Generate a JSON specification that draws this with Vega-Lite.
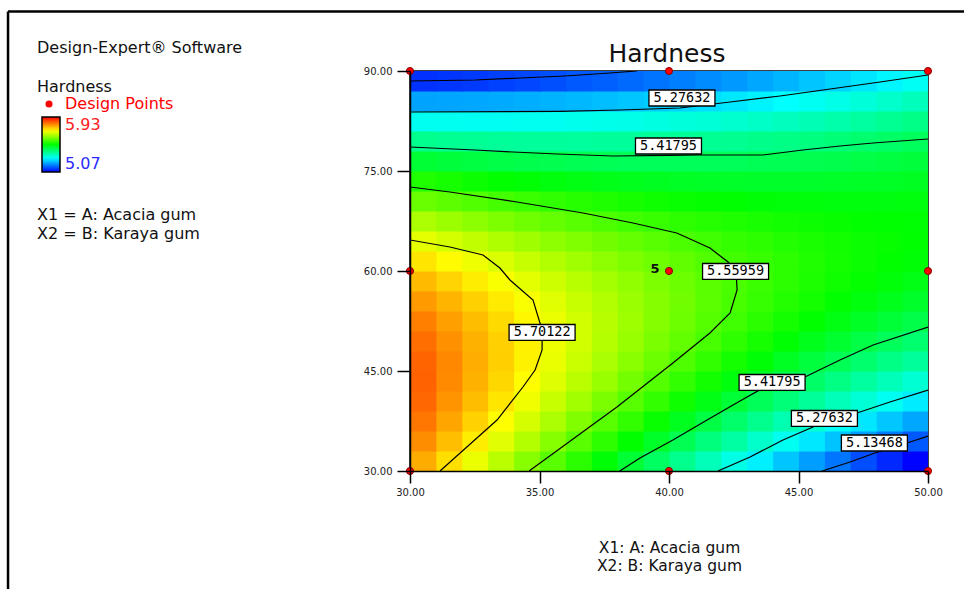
{
"$schema": "https://vega.github.io/schema/vega-lite/v6.json",
"autosize": "none",
"width": 518,
"height": 400,
"padding": {"left": 410, "top": 71, "right": 36, "bottom": 118},
"background": "white",
"config": {"view": {"stroke": "#000", "strokeWidth": 1.5}, "font": "DejaVu Sans"},
"datasets": {
"grid": [
{"a":30,"b":30,"h":5.785},{"a":31,"b":30,"h":5.742},{"a":32,"b":30,"h":5.699},{"a":33,"b":30,"h":5.657},{"a":34,"b":30,"h":5.615},{"a":35,"b":30,"h":5.575},{"a":36,"b":30,"h":5.535},{"a":37,"b":30,"h":5.495},{"a":38,"b":30,"h":5.456},{"a":39,"b":30,"h":5.418},{"a":40,"b":30,"h":5.381},{"a":41,"b":30,"h":5.344},{"a":42,"b":30,"h":5.307},{"a":43,"b":30,"h":5.272},{"a":44,"b":30,"h":5.237},{"a":45,"b":30,"h":5.203},{"a":46,"b":30,"h":5.169},{"a":47,"b":30,"h":5.136},{"a":48,"b":30,"h":5.104},{"a":49,"b":30,"h":5.072},
{"a":30,"b":33,"h":5.811},{"a":31,"b":33,"h":5.770},{"a":32,"b":33,"h":5.730},{"a":33,"b":33,"h":5.690},{"a":34,"b":33,"h":5.651},{"a":35,"b":33,"h":5.613},{"a":36,"b":33,"h":5.575},{"a":37,"b":33,"h":5.538},{"a":38,"b":33,"h":5.502},{"a":39,"b":33,"h":5.466},{"a":40,"b":33,"h":5.431},{"a":41,"b":33,"h":5.397},{"a":42,"b":33,"h":5.363},{"a":43,"b":33,"h":5.330},{"a":44,"b":33,"h":5.298},{"a":45,"b":33,"h":5.266},{"a":46,"b":33,"h":5.235},{"a":47,"b":33,"h":5.204},{"a":48,"b":33,"h":5.174},{"a":49,"b":33,"h":5.145},
{"a":30,"b":36,"h":5.830},{"a":31,"b":36,"h":5.791},{"a":32,"b":36,"h":5.753},{"a":33,"b":36,"h":5.716},{"a":34,"b":36,"h":5.680},{"a":35,"b":36,"h":5.644},{"a":36,"b":36,"h":5.609},{"a":37,"b":36,"h":5.574},{"a":38,"b":36,"h":5.541},{"a":39,"b":36,"h":5.507},{"a":40,"b":36,"h":5.475},{"a":41,"b":36,"h":5.443},{"a":42,"b":36,"h":5.412},{"a":43,"b":36,"h":5.381},{"a":44,"b":36,"h":5.351},{"a":45,"b":36,"h":5.322},{"a":46,"b":36,"h":5.293},{"a":47,"b":36,"h":5.265},{"a":48,"b":36,"h":5.238},{"a":49,"b":36,"h":5.211},
{"a":30,"b":39,"h":5.842},{"a":31,"b":39,"h":5.806},{"a":32,"b":39,"h":5.771},{"a":33,"b":39,"h":5.736},{"a":34,"b":39,"h":5.702},{"a":35,"b":39,"h":5.669},{"a":36,"b":39,"h":5.636},{"a":37,"b":39,"h":5.604},{"a":38,"b":39,"h":5.573},{"a":39,"b":39,"h":5.542},{"a":40,"b":39,"h":5.512},{"a":41,"b":39,"h":5.482},{"a":42,"b":39,"h":5.454},{"a":43,"b":39,"h":5.426},{"a":44,"b":39,"h":5.398},{"a":45,"b":39,"h":5.371},{"a":46,"b":39,"h":5.345},{"a":47,"b":39,"h":5.320},{"a":48,"b":39,"h":5.295},{"a":49,"b":39,"h":5.270},
{"a":30,"b":42,"h":5.847},{"a":31,"b":42,"h":5.814},{"a":32,"b":42,"h":5.781},{"a":33,"b":42,"h":5.749},{"a":34,"b":42,"h":5.717},{"a":35,"b":42,"h":5.686},{"a":36,"b":42,"h":5.656},{"a":37,"b":42,"h":5.627},{"a":38,"b":42,"h":5.598},{"a":39,"b":42,"h":5.570},{"a":40,"b":42,"h":5.542},{"a":41,"b":42,"h":5.515},{"a":42,"b":42,"h":5.489},{"a":43,"b":42,"h":5.463},{"a":44,"b":42,"h":5.438},{"a":45,"b":42,"h":5.414},{"a":46,"b":42,"h":5.390},{"a":47,"b":42,"h":5.367},{"a":48,"b":42,"h":5.345},{"a":49,"b":42,"h":5.323},
{"a":30,"b":45,"h":5.846},{"a":31,"b":45,"h":5.815},{"a":32,"b":45,"h":5.784},{"a":33,"b":45,"h":5.755},{"a":34,"b":45,"h":5.726},{"a":35,"b":45,"h":5.697},{"a":36,"b":45,"h":5.670},{"a":37,"b":45,"h":5.643},{"a":38,"b":45,"h":5.616},{"a":39,"b":45,"h":5.590},{"a":40,"b":45,"h":5.565},{"a":41,"b":45,"h":5.541},{"a":42,"b":45,"h":5.517},{"a":43,"b":45,"h":5.494},{"a":44,"b":45,"h":5.471},{"a":45,"b":45,"h":5.449},{"a":46,"b":45,"h":5.428},{"a":47,"b":45,"h":5.408},{"a":48,"b":45,"h":5.388},{"a":49,"b":45,"h":5.369},
{"a":30,"b":48,"h":5.837},{"a":31,"b":48,"h":5.809},{"a":32,"b":48,"h":5.781},{"a":33,"b":48,"h":5.754},{"a":34,"b":48,"h":5.727},{"a":35,"b":48,"h":5.701},{"a":36,"b":48,"h":5.676},{"a":37,"b":48,"h":5.652},{"a":38,"b":48,"h":5.628},{"a":39,"b":48,"h":5.604},{"a":40,"b":48,"h":5.582},{"a":41,"b":48,"h":5.560},{"a":42,"b":48,"h":5.538},{"a":43,"b":48,"h":5.518},{"a":44,"b":48,"h":5.498},{"a":45,"b":48,"h":5.478},{"a":46,"b":48,"h":5.460},{"a":47,"b":48,"h":5.442},{"a":48,"b":48,"h":5.424},{"a":49,"b":48,"h":5.407},
{"a":30,"b":51,"h":5.822},{"a":31,"b":51,"h":5.796},{"a":32,"b":51,"h":5.771},{"a":33,"b":51,"h":5.746},{"a":34,"b":51,"h":5.722},{"a":35,"b":51,"h":5.699},{"a":36,"b":51,"h":5.676},{"a":37,"b":51,"h":5.654},{"a":38,"b":51,"h":5.632},{"a":39,"b":51,"h":5.612},{"a":40,"b":51,"h":5.592},{"a":41,"b":51,"h":5.572},{"a":42,"b":51,"h":5.553},{"a":43,"b":51,"h":5.535},{"a":44,"b":51,"h":5.517},{"a":45,"b":51,"h":5.501},{"a":46,"b":51,"h":5.484},{"a":47,"b":51,"h":5.469},{"a":48,"b":51,"h":5.454},{"a":49,"b":51,"h":5.439},
{"a":30,"b":54,"h":5.800},{"a":31,"b":54,"h":5.777},{"a":32,"b":54,"h":5.754},{"a":33,"b":54,"h":5.732},{"a":34,"b":54,"h":5.710},{"a":35,"b":54,"h":5.689},{"a":36,"b":54,"h":5.669},{"a":37,"b":54,"h":5.649},{"a":38,"b":54,"h":5.630},{"a":39,"b":54,"h":5.612},{"a":40,"b":54,"h":5.595},{"a":41,"b":54,"h":5.577},{"a":42,"b":54,"h":5.561},{"a":43,"b":54,"h":5.545},{"a":44,"b":54,"h":5.530},{"a":45,"b":54,"h":5.516},{"a":46,"b":54,"h":5.502},{"a":47,"b":54,"h":5.489},{"a":48,"b":54,"h":5.477},{"a":49,"b":54,"h":5.465},
{"a":30,"b":57,"h":5.772},{"a":31,"b":57,"h":5.751},{"a":32,"b":57,"h":5.730},{"a":33,"b":57,"h":5.711},{"a":34,"b":57,"h":5.691},{"a":35,"b":57,"h":5.673},{"a":36,"b":57,"h":5.655},{"a":37,"b":57,"h":5.638},{"a":38,"b":57,"h":5.622},{"a":39,"b":57,"h":5.606},{"a":40,"b":57,"h":5.591},{"a":41,"b":57,"h":5.576},{"a":42,"b":57,"h":5.562},{"a":43,"b":57,"h":5.549},{"a":44,"b":57,"h":5.536},{"a":45,"b":57,"h":5.524},{"a":46,"b":57,"h":5.513},{"a":47,"b":57,"h":5.503},{"a":48,"b":57,"h":5.493},{"a":49,"b":57,"h":5.483},
{"a":30,"b":60,"h":5.736},{"a":31,"b":60,"h":5.718},{"a":32,"b":60,"h":5.700},{"a":33,"b":60,"h":5.683},{"a":34,"b":60,"h":5.666},{"a":35,"b":60,"h":5.650},{"a":36,"b":60,"h":5.635},{"a":37,"b":60,"h":5.620},{"a":38,"b":60,"h":5.606},{"a":39,"b":60,"h":5.593},{"a":40,"b":60,"h":5.580},{"a":41,"b":60,"h":5.568},{"a":42,"b":60,"h":5.556},{"a":43,"b":60,"h":5.546},{"a":44,"b":60,"h":5.536},{"a":45,"b":60,"h":5.526},{"a":46,"b":60,"h":5.517},{"a":47,"b":60,"h":5.509},{"a":48,"b":60,"h":5.502},{"a":49,"b":60,"h":5.495},
{"a":30,"b":63,"h":5.694},{"a":31,"b":63,"h":5.678},{"a":32,"b":63,"h":5.663},{"a":33,"b":63,"h":5.648},{"a":34,"b":63,"h":5.634},{"a":35,"b":63,"h":5.620},{"a":36,"b":63,"h":5.607},{"a":37,"b":63,"h":5.595},{"a":38,"b":63,"h":5.584},{"a":39,"b":63,"h":5.573},{"a":40,"b":63,"h":5.563},{"a":41,"b":63,"h":5.553},{"a":42,"b":63,"h":5.544},{"a":43,"b":63,"h":5.536},{"a":44,"b":63,"h":5.528},{"a":45,"b":63,"h":5.521},{"a":46,"b":63,"h":5.515},{"a":47,"b":63,"h":5.509},{"a":48,"b":63,"h":5.504},{"a":49,"b":63,"h":5.500},
{"a":30,"b":66,"h":5.645},{"a":31,"b":66,"h":5.631},{"a":32,"b":66,"h":5.618},{"a":33,"b":66,"h":5.606},{"a":34,"b":66,"h":5.594},{"a":35,"b":66,"h":5.584},{"a":36,"b":66,"h":5.573},{"a":37,"b":66,"h":5.563},{"a":38,"b":66,"h":5.554},{"a":39,"b":66,"h":5.546},{"a":40,"b":66,"h":5.538},{"a":41,"b":66,"h":5.531},{"a":42,"b":66,"h":5.525},{"a":43,"b":66,"h":5.519},{"a":44,"b":66,"h":5.514},{"a":45,"b":66,"h":5.509},{"a":46,"b":66,"h":5.505},{"a":47,"b":66,"h":5.502},{"a":48,"b":66,"h":5.500},{"a":49,"b":66,"h":5.498},
{"a":30,"b":69,"h":5.589},{"a":31,"b":69,"h":5.578},{"a":32,"b":69,"h":5.568},{"a":33,"b":69,"h":5.558},{"a":34,"b":69,"h":5.549},{"a":35,"b":69,"h":5.540},{"a":36,"b":69,"h":5.532},{"a":37,"b":69,"h":5.525},{"a":38,"b":69,"h":5.518},{"a":39,"b":69,"h":5.512},{"a":40,"b":69,"h":5.507},{"a":41,"b":69,"h":5.503},{"a":42,"b":69,"h":5.499},{"a":43,"b":69,"h":5.495},{"a":44,"b":69,"h":5.493},{"a":45,"b":69,"h":5.491},{"a":46,"b":69,"h":5.489},{"a":47,"b":69,"h":5.489},{"a":48,"b":69,"h":5.488},{"a":49,"b":69,"h":5.489},
{"a":30,"b":72,"h":5.526},{"a":31,"b":72,"h":5.518},{"a":32,"b":72,"h":5.510},{"a":33,"b":72,"h":5.502},{"a":34,"b":72,"h":5.496},{"a":35,"b":72,"h":5.490},{"a":36,"b":72,"h":5.484},{"a":37,"b":72,"h":5.480},{"a":38,"b":72,"h":5.476},{"a":39,"b":72,"h":5.472},{"a":40,"b":72,"h":5.469},{"a":41,"b":72,"h":5.467},{"a":42,"b":72,"h":5.466},{"a":43,"b":72,"h":5.465},{"a":44,"b":72,"h":5.465},{"a":45,"b":72,"h":5.465},{"a":46,"b":72,"h":5.466},{"a":47,"b":72,"h":5.468},{"a":48,"b":72,"h":5.470},{"a":49,"b":72,"h":5.473},
{"a":30,"b":75,"h":5.457},{"a":31,"b":75,"h":5.451},{"a":32,"b":75,"h":5.445},{"a":33,"b":75,"h":5.440},{"a":34,"b":75,"h":5.436},{"a":35,"b":75,"h":5.433},{"a":36,"b":75,"h":5.430},{"a":37,"b":75,"h":5.428},{"a":38,"b":75,"h":5.426},{"a":39,"b":75,"h":5.425},{"a":40,"b":75,"h":5.425},{"a":41,"b":75,"h":5.425},{"a":42,"b":75,"h":5.426},{"a":43,"b":75,"h":5.428},{"a":44,"b":75,"h":5.430},{"a":45,"b":75,"h":5.433},{"a":46,"b":75,"h":5.436},{"a":47,"b":75,"h":5.441},{"a":48,"b":75,"h":5.446},{"a":49,"b":75,"h":5.451},
{"a":30,"b":78,"h":5.381},{"a":31,"b":78,"h":5.377},{"a":32,"b":78,"h":5.374},{"a":33,"b":78,"h":5.372},{"a":34,"b":78,"h":5.370},{"a":35,"b":78,"h":5.369},{"a":36,"b":78,"h":5.368},{"a":37,"b":78,"h":5.369},{"a":38,"b":78,"h":5.369},{"a":39,"b":78,"h":5.371},{"a":40,"b":78,"h":5.373},{"a":41,"b":78,"h":5.376},{"a":42,"b":78,"h":5.379},{"a":43,"b":78,"h":5.384},{"a":44,"b":78,"h":5.388},{"a":45,"b":78,"h":5.394},{"a":46,"b":78,"h":5.400},{"a":47,"b":78,"h":5.407},{"a":48,"b":78,"h":5.414},{"a":49,"b":78,"h":5.422},
{"a":30,"b":81,"h":5.298},{"a":31,"b":81,"h":5.297},{"a":32,"b":81,"h":5.296},{"a":33,"b":81,"h":5.296},{"a":34,"b":81,"h":5.297},{"a":35,"b":81,"h":5.298},{"a":36,"b":81,"h":5.300},{"a":37,"b":81,"h":5.303},{"a":38,"b":81,"h":5.306},{"a":39,"b":81,"h":5.310},{"a":40,"b":81,"h":5.315},{"a":41,"b":81,"h":5.320},{"a":42,"b":81,"h":5.326},{"a":43,"b":81,"h":5.333},{"a":44,"b":81,"h":5.340},{"a":45,"b":81,"h":5.348},{"a":46,"b":81,"h":5.356},{"a":47,"b":81,"h":5.366},{"a":48,"b":81,"h":5.376},{"a":49,"b":81,"h":5.386},
{"a":30,"b":84,"h":5.208},{"a":31,"b":84,"h":5.209},{"a":32,"b":84,"h":5.211},{"a":33,"b":84,"h":5.214},{"a":34,"b":84,"h":5.217},{"a":35,"b":84,"h":5.221},{"a":36,"b":84,"h":5.225},{"a":37,"b":84,"h":5.230},{"a":38,"b":84,"h":5.236},{"a":39,"b":84,"h":5.243},{"a":40,"b":84,"h":5.250},{"a":41,"b":84,"h":5.258},{"a":42,"b":84,"h":5.266},{"a":43,"b":84,"h":5.275},{"a":44,"b":84,"h":5.285},{"a":45,"b":84,"h":5.295},{"a":46,"b":84,"h":5.306},{"a":47,"b":84,"h":5.318},{"a":48,"b":84,"h":5.330},{"a":49,"b":84,"h":5.343},
{"a":30,"b":87,"h":5.111},{"a":31,"b":87,"h":5.115},{"a":32,"b":87,"h":5.119},{"a":33,"b":87,"h":5.124},{"a":34,"b":87,"h":5.130},{"a":35,"b":87,"h":5.137},{"a":36,"b":87,"h":5.144},{"a":37,"b":87,"h":5.151},{"a":38,"b":87,"h":5.159},{"a":39,"b":87,"h":5.168},{"a":40,"b":87,"h":5.178},{"a":41,"b":87,"h":5.188},{"a":42,"b":87,"h":5.199},{"a":43,"b":87,"h":5.211},{"a":44,"b":87,"h":5.223},{"a":45,"b":87,"h":5.236},{"a":46,"b":87,"h":5.249},{"a":47,"b":87,"h":5.264},{"a":48,"b":87,"h":5.278},{"a":49,"b":87,"h":5.294}
],
"contours": [
{"c":"t13","o":1,"a":30,"b":88.5},{"c":"t13","o":2,"a":32.51,"b":88.65},{"c":"t13","o":3,"a":34.25,"b":88.95},{"c":"t13","o":4,"a":35.98,"b":89.25},{"c":"t13","o":5,"a":37.72,"b":89.7},{"c":"t13","o":6,"a":38.76,"b":90},
{"c":"t27","o":1,"a":30,"b":83.85},{"c":"t27","o":2,"a":35.79,"b":83.93},{"c":"t27","o":3,"a":38.11,"b":84.15},{"c":"t27","o":4,"a":40.42,"b":84.45},{"c":"t27","o":5,"a":42.36,"b":85.35},{"c":"t27","o":6,"a":44.29,"b":86.25},{"c":"t27","o":7,"a":46.22,"b":87.3},{"c":"t27","o":8,"a":48.15,"b":88.35},{"c":"t27","o":9,"a":50,"b":89.4},
{"c":"t41","o":1,"a":30,"b":78.6},{"c":"t41","o":2,"a":32.51,"b":78.15},{"c":"t41","o":3,"a":33.98,"b":77.85},{"c":"t41","o":4,"a":35.68,"b":77.55},{"c":"t41","o":5,"a":37.84,"b":77.25},{"c":"t41","o":6,"a":40,"b":77.33},{"c":"t41","o":7,"a":41.2,"b":77.4},{"c":"t41","o":8,"a":43.63,"b":77.4},{"c":"t41","o":9,"a":45.17,"b":78.15},{"c":"t41","o":10,"a":46.6,"b":78.75},{"c":"t41","o":11,"a":47.88,"b":79.2},{"c":"t41","o":12,"a":50,"b":79.8},
{"c":"c55","o":1,"a":30,"b":72.6},{"c":"c55","o":2,"a":31.54,"b":71.85},{"c":"c55","o":3,"a":34.13,"b":70.35},{"c":"c55","o":4,"a":36.68,"b":68.7},{"c":"c55","o":5,"a":38.61,"b":67.2},{"c":"c55","o":6,"a":40.3,"b":65.7},{"c":"c55","o":7,"a":41.58,"b":63.45},{"c":"c55","o":8,"a":42.28,"b":61.35},{"c":"c55","o":9,"a":42.59,"b":59.85},{"c":"c55","o":10,"a":42.63,"b":57.15},{"c":"c55","o":11,"a":42.36,"b":53.7},{"c":"c55","o":12,"a":41.58,"b":50.7},{"c":"c55","o":13,"a":40.15,"b":46.2},{"c":"c55","o":14,"a":37.99,"b":39.6},{"c":"c55","o":15,"a":34.6,"b":30},
{"c":"c70","o":1,"a":30,"b":64.65},{"c":"c70","o":2,"a":31.54,"b":63.6},{"c":"c70","o":3,"a":32.82,"b":62.4},{"c":"c70","o":4,"a":33.47,"b":60.45},{"c":"c70","o":5,"a":33.86,"b":58.65},{"c":"c70","o":6,"a":34.75,"b":55.65},{"c":"c70","o":7,"a":35.1,"b":51.15},{"c":"c70","o":8,"a":35.1,"b":48.15},{"c":"c70","o":9,"a":34.83,"b":45.15},{"c":"c70","o":10,"a":34.36,"b":42.6},{"c":"c70","o":11,"a":33.36,"b":37.65},{"c":"c70","o":12,"a":31.16,"b":30},
{"c":"b41","o":1,"a":38.1,"b":30},{"c":"b41","o":2,"a":38.88,"b":31.95},{"c":"b41","o":3,"a":40.15,"b":34.65},{"c":"b41","o":4,"a":41.47,"b":37.65},{"c":"b41","o":5,"a":42.74,"b":40.5},{"c":"b41","o":6,"a":43.98,"b":43.2},{"c":"b41","o":7,"a":45.25,"b":44.1},{"c":"b41","o":8,"a":46.6,"b":46.65},{"c":"b41","o":9,"a":47.88,"b":48.9},{"c":"b41","o":10,"a":50,"b":51.6},
{"c":"b27","o":1,"a":41.89,"b":30},{"c":"b27","o":2,"a":43.13,"b":32.1},{"c":"b27","o":3,"a":44.4,"b":34.65},{"c":"b27","o":4,"a":45.56,"b":36.6},{"c":"b27","o":5,"a":46.02,"b":37.8},{"c":"b27","o":6,"a":47.26,"b":38.7},{"c":"b27","o":7,"a":48.53,"b":40.35},{"c":"b27","o":8,"a":50,"b":42.15},
{"c":"b13","o":1,"a":45.91,"b":30},{"c":"b13","o":2,"a":46.99,"b":31.35},{"c":"b13","o":3,"a":47.95,"b":32.7},{"c":"b13","o":4,"a":49.19,"b":34.2},{"c":"b13","o":5,"a":50,"b":35.25}
],
"labels": [
{"t":"5.27632","a":40.5,"b":85.95},{"t":"5.41795","a":39.98,"b":78.75},{"t":"5.55959","a":42.57,"b":59.93},{"t":"5.70122","a":35.1,"b":50.78},{"t":"5.41795","a":43.98,"b":43.28},{"t":"5.27632","a":46.0,"b":37.88},{"t":"5.13468","a":47.93,"b":34.2}
],
"points": [
{"a":30,"b":30,"n":1},{"a":30,"b":60,"n":1},{"a":30,"b":90,"n":1},{"a":40,"b":30,"n":1},{"a":40,"b":60,"n":5},{"a":40,"b":90,"n":1},{"a":50,"b":30,"n":1},{"a":50,"b":60,"n":1},{"a":50,"b":90,"n":1}
]
},
"layer": [
{
"data": {"name": "grid"},
"mark": {"type": "rect", "clip": true},
"encoding": {
"x": {"field": "a", "type": "quantitative", "bin": {"binned": true, "step": 1.05},
"scale": {"domain": [30, 50], "nice": false, "zero": false},
"axis": {"values": [30, 35, 40, 45, 50], "format": ".2f", "labelFlush": false, "tickSize": 12, "tickColor": "#000", "tickWidth": 1.5, "domainColor": "#000", "domainWidth": 1.5, "grid": false, "labelFont": "DejaVu Sans", "labelFontSize": 10, "labelColor": "#222", "labelPadding": 4,
"title": ["X1: A: Acacia gum", "X2: B: Karaya gum"], "titleFont": "DejaVu Sans", "titleFontSize": 15.5, "titleFontWeight": "normal", "titleColor": "#111", "titlePadding": 43, "titleLineHeight": 18}},
"y": {"field": "b", "type": "quantitative", "bin": {"binned": true, "step": 3.1},
"scale": {"domain": [30, 90], "nice": false, "zero": false},
"axis": {"values": [30, 45, 60, 75, 90], "format": ".2f", "labelFlush": false, "tickSize": 13, "tickColor": "#000", "tickWidth": 1.5, "domainColor": "#000", "domainWidth": 1.5, "grid": false, "labelFont": "DejaVu Sans", "labelFontSize": 10, "labelColor": "#222", "labelPadding": 5, "title": null}},
"color": {"field": "h", "type": "quantitative",
"scale": {"domain": [5.07, 5.285, 5.5, 5.715, 5.93], "range": ["#0000ff", "#00ffff", "#00ff00", "#ffff00", "#ff0000"], "clamp": true, "interpolate": "rgb"},
"legend": {"type": "gradient", "orient": "none", "legendX": -368, "legendY": 46, "direction": "vertical", "gradientLength": 55, "gradientThickness": 18, "title": null, "values": [5.07, 5.93], "format": ".2f", "labelFont": "DejaVu Sans", "labelFontSize": 16, "labelOffset": 5, "gradientStrokeColor": "#000", "gradientStrokeWidth": 1.5, "padding": 0,
"encode": {"labels": {"update": {"fill": {"signal": "datum.value > 5.5 ? '#ff2020' : '#2a2aff'"}}}}}}
}
},
{
"data": {"name": "contours"},
"mark": {"type": "line", "color": "#000", "strokeWidth": 1.2, "clip": true},
"encoding": {
"x": {"field": "a", "type": "quantitative"},
"y": {"field": "b", "type": "quantitative"},
"detail": {"field": "c"},
"order": {"field": "o"}
}
},
{
"data": {"name": "labels"},
"mark": {"type": "point", "shape": "M-1,-0.242L1,-0.242L1,0.242L-1,0.242Z", "size": 4356, "filled": true, "fill": "#ffffff", "stroke": "#000", "strokeWidth": 1.3, "opacity": 1},
"encoding": {
"x": {"field": "a", "type": "quantitative"},
"y": {"field": "b", "type": "quantitative"}
}
},
{
"data": {"name": "labels"},
"mark": {"type": "text", "font": "DejaVu Sans Mono", "fontSize": 13.5, "color": "#000", "baseline": "middle", "align": "center"},
"encoding": {
"x": {"field": "a", "type": "quantitative"},
"y": {"field": "b", "type": "quantitative"},
"text": {"field": "t"}
}
},
{
"data": {"name": "points"},
"mark": {"type": "point", "filled": true, "color": "#ff0000", "stroke": "#800000", "strokeWidth": 1, "size": 50, "opacity": 1},
"encoding": {
"x": {"field": "a", "type": "quantitative"},
"y": {"field": "b", "type": "quantitative"},
"shape": {"datum": "Design Points", "type": "nominal", "scale": {"range": ["circle"]},
"legend": {"orient": "none", "legendX": -373, "legendY": 8, "title": "Hardness", "titleFont": "DejaVu Sans", "titleFontSize": 16, "titleFontWeight": "normal", "titleColor": "#111", "titlePadding": 1, "labelFont": "DejaVu Sans", "labelFontSize": 16, "labelColor": "#ff0000", "symbolFillColor": "#ff0000", "symbolStrokeColor": "#800000", "symbolSize": 50, "symbolOffset": 4, "labelOffset": 8, "padding": 0}}
}
},
{
"data": {"name": "points"},
"transform": [{"filter": "datum.n > 1"}],
"mark": {"type": "text", "dx": -14, "dy": -2, "fontWeight": "bold", "fontSize": 13, "font": "DejaVu Sans", "color": "#111"},
"encoding": {
"x": {"field": "a", "type": "quantitative"},
"y": {"field": "b", "type": "quantitative"},
"text": {"field": "n"}
}
},
{
"data": {"values": [{}]},
"mark": {"type": "text", "align": "center", "baseline": "alphabetic", "font": "DejaVu Sans", "fontSize": 25, "color": "#111"},
"encoding": {
"x": {"datum": 39.92, "type": "quantitative"},
"y": {"datum": 91.35, "type": "quantitative"},
"text": {"value": "Hardness"}
}
},
{
"data": {"values": [{}]},
"mark": {"type": "text", "align": "left", "baseline": "middle", "font": "DejaVu Sans", "fontSize": 16, "color": "#111"},
"encoding": {
"x": {"datum": 15.6, "type": "quantitative"},
"y": {"datum": 93.45, "type": "quantitative"},
"text": {"value": "Design-Expert® Software"}
}
},
{
"data": {"values": [{}]},
"mark": {"type": "text", "align": "left", "baseline": "middle", "font": "DejaVu Sans", "fontSize": 16, "color": "#111", "lineHeight": 19},
"encoding": {
"x": {"datum": 15.6, "type": "quantitative"},
"y": {"datum": 68.45, "type": "quantitative"},
"text": {"value": ["X1 = A: Acacia gum", "X2 = B: Karaya gum"]}
}
},
{
"data": {"values": [{}]},
"mark": {"type": "rule", "color": "#000", "strokeWidth": 2.5},
"encoding": {
"x": {"datum": 14.48, "type": "quantitative"},
"x2": {"datum": 52},
"y": {"datum": 98.93, "type": "quantitative"}
}
},
{
"data": {"values": [{}]},
"mark": {"type": "rule", "color": "#000", "strokeWidth": 2.5},
"encoding": {
"x": {"datum": 14.48, "type": "quantitative"},
"y": {"datum": 98.93, "type": "quantitative"},
"y2": {"datum": 10}
}
}
]
}
